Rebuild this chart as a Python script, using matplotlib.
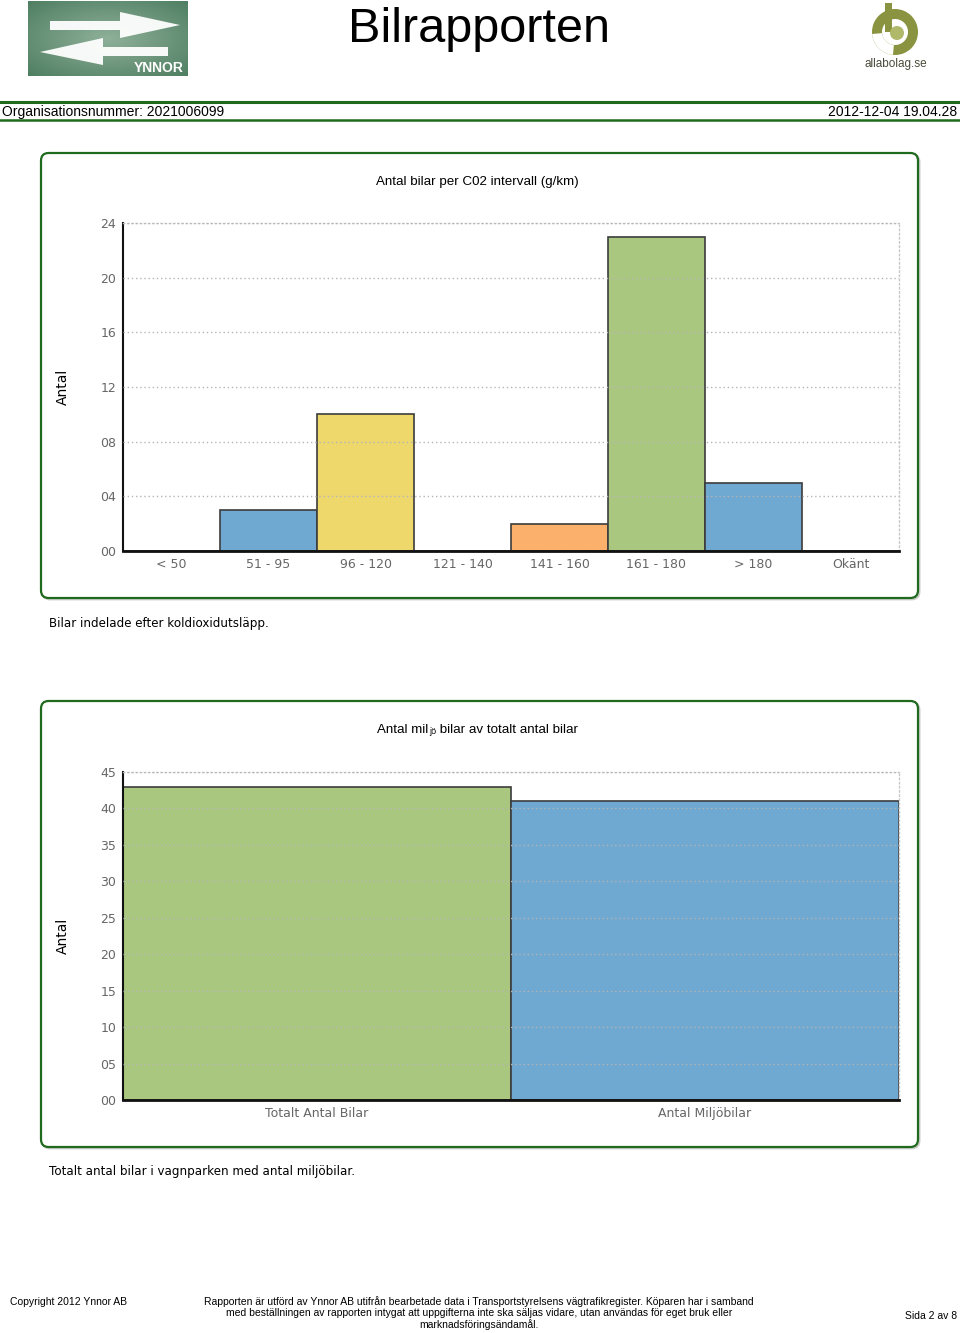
import numpy as np
import matplotlib
matplotlib.use("Agg")
import matplotlib.pyplot as plt
from matplotlib.patches import FancyBboxPatch, Polygon, Rectangle, Wedge, Circle
from matplotlib.lines import Line2D

# ---------------- data ----------------
co2_categories = ["< 50", "51 - 95", "96 - 120", "121 - 140", "141 - 160", "161 - 180", "> 180", "Okänt"]
co2_counts = [0, 3, 10, 0, 2, 23, 5, 0]
co2_colors = ["#6fa8d1", "#6fa8d1", "#eed86c", "#6fa8d1", "#fbb06c", "#a9c77e", "#6fa8d1", "#6fa8d1"]
co2_yticks = [0, 4, 8, 12, 16, 20, 24]

env_categories = ["Totalt Antal Bilar", "Antal Miljöbilar"]
env_counts = [43, 41]
env_colors = ["#a9c77e", "#6fa8d1"]
env_yticks = [0, 5, 10, 15, 20, 25, 30, 35, 40, 45]

W, H = 960, 1333
fig = plt.figure(figsize=(W / 100, H / 100), dpi=100)
fig.patch.set_facecolor("white")

SANS = ["Liberation Sans", "DejaVu Sans"]
TICKF = ["DejaVu Sans"]
GREEN = "#1f6a1c"


def fx(x):
    return x / W


def fy(y):
    return 1 - y / H


def rect(l, t, r, b):
    return [fx(l), fy(b), fx(r) - fx(l), fy(t) - fy(b)]


# ---------------- frames (drawn first, behind axes) ----------------
def frame(l, t, r, b):
    sh = FancyBboxPatch((fx(l) + 0.0015, fy(b) - 0.001), fx(r) - fx(l), fy(t) - fy(b),
                        boxstyle="round,pad=0,rounding_size=0.008",
                        transform=fig.transFigure, fc="none", ec="#cccccc", lw=1.5,
                        mutation_aspect=W / H, zorder=-2)
    fig.add_artist(sh)
    p = FancyBboxPatch((fx(l), fy(b)), fx(r) - fx(l), fy(t) - fy(b),
                       boxstyle="round,pad=0,rounding_size=0.008",
                       transform=fig.transFigure, fc="white", ec=GREEN, lw=1.6,
                       mutation_aspect=W / H, zorder=-1)
    fig.add_artist(p)


frame(41, 153, 918, 598)
frame(41, 701, 918, 1147)

# ---------------- header ----------------
lax = fig.add_axes(rect(28, 1, 188, 76))
lax.set_xlim(0, 160)
lax.set_ylim(75, 0)
lax.axis("off")
gy, gx = np.mgrid[0:75, 0:160]
grad = np.hypot((gx - 80) / 80.0, (gy - 37) / 37.0)
lax.imshow(grad, cmap=matplotlib.colors.LinearSegmentedColormap.from_list(
    "g", ["#8fb09a", "#4f7f62"]), extent=(0, 160, 75, 0), aspect="auto", vmin=0, vmax=1.4)
lax.add_patch(Polygon([(22, 20), (92, 20), (92, 11), (152, 24), (92, 37), (92, 29), (22, 29)],
                      closed=True, fc="white", ec="none", alpha=0.95))
lax.add_patch(Polygon([(140, 46), (75, 46), (75, 37), (12, 51), (75, 64), (75, 55), (140, 55)],
                      closed=True, fc="white", ec="none", alpha=0.95))
lax.text(156, 67, "YNNOR", color="white", fontsize=10, fontweight="bold",
         family=SANS, ha="right", va="center")

rax = fig.add_axes(rect(855, 0, 935, 75))
rax.set_xlim(0, 80)
rax.set_ylim(75, 0)
rax.set_aspect("equal")
rax.axis("off")
rax.add_patch(Wedge((40, 32), 23, 0, 360, width=10, fc="#8a9440", ec="none"))
rax.add_patch(Wedge((40, 32), 23, 95, 175, width=10, fc="white", ec="none"))
rax.add_patch(Rectangle((30, 3), 7, 29, fc="#8a9440", ec="none"))
rax.add_patch(Circle((42, 33), 7, fc="#b0b86a", ec="none"))
rax.text(41, 64, "allabolag.se", color="#4a4a3a", fontsize=8.5, family=SANS,
         ha="center", va="center")

fig.text(fx(479), fy(30), "Bilrapporten", fontsize=35, family=SANS,
         ha="center", va="center", color="black")

fig.add_artist(Line2D([0, 1], [fy(102), fy(102)], color=GREEN, lw=2.2))
fig.add_artist(Line2D([0, 1], [fy(119.5), fy(119.5)], color=GREEN, lw=1.8))
fig.text(fx(2), fy(112), "Organisationsnummer: 2021006099", fontsize=10, family=SANS,
         ha="left", va="center")
fig.text(fx(957), fy(112), "2012-12-04 19.04.28", fontsize=10, family=SANS,
         ha="right", va="center")


def style_axes(ax, yticks):
    ax.patch.set_alpha(0)
    ax.set_yticks(yticks)
    ax.set_yticklabels(["%02d" % v for v in yticks], color="#666666",
                       fontsize=9, family=TICKF)
    ax.set_ylim(yticks[0], yticks[-1])
    ax.tick_params(axis="both", length=0)
    ax.tick_params(axis="y", pad=5)
    ax.tick_params(axis="x", pad=5)
    ax.yaxis.grid(True, linestyle=(0, (1, 2)), color="#b5b5b5", lw=1)
    ax.set_axisbelow(False)
    ax.spines["left"].set_color("#111111")
    ax.spines["left"].set_linewidth(1.5)
    ax.spines["bottom"].set_color("#111111")
    ax.spines["bottom"].set_linewidth(2)
    ax.spines["bottom"].set_zorder(4)
    for s in ("top", "right"):
        ax.spines[s].set_linestyle((0, (1, 2)))
        ax.spines[s].set_color("#c8c8c8")
        ax.spines[s].set_linewidth(1)
    ax.set_ylabel("Antal", fontsize=10, family=TICKF, color="black")
    ax.yaxis.set_label_coords(-(123 - 70) / 776, 0.5)
    for lbl in ax.get_xticklabels():
        lbl.set_color("#666666")
        lbl.set_fontsize(9)
        lbl.set_family(TICKF)


# ---------------- chart 1 ----------------
ax1 = fig.add_axes(rect(123, 223, 899, 551))
x1 = np.arange(len(co2_categories))
ax1.bar(x1, co2_counts, width=1.0, color=co2_colors, edgecolor="#3c3c3c", lw=1.2, zorder=1)
ax1.set_xlim(-0.5, len(co2_categories) - 0.5)
ax1.set_xticks(x1)
ax1.set_xticklabels(co2_categories)
style_axes(ax1, co2_yticks)
fig.text(fx(477), fy(182), "Antal bilar per C02 intervall (g/km)", fontsize=9.6,
         family=SANS, ha="center", va="center")
fig.text(fx(49), fy(624), "Bilar indelade efter koldioxidutsläpp.", fontsize=8.6,
         family=TICKF, ha="left", va="center")

# ---------------- chart 2 ----------------
ax2 = fig.add_axes(rect(123, 772, 899, 1100))
x2 = np.arange(len(env_categories))
ax2.bar(x2, env_counts, width=1.0, color=env_colors, edgecolor="#3c3c3c", lw=1.2, zorder=1)
ax2.set_xlim(-0.5, len(env_categories) - 0.5)
ax2.set_xticks(x2)
ax2.set_xticklabels(env_categories)
style_axes(ax2, env_yticks)

t1 = fig.text(fx(377), fy(730), "Antal mil", fontsize=9.6, family=SANS, ha="left", va="center")
t2 = ax2.annotate("jö", xy=(1, 0), xycoords=t1, xytext=(0.5, 0), textcoords="offset points",
                  fontsize=6.5, family=SANS, ha="left", va="bottom", annotation_clip=False)
t3 = ax2.annotate(" bilar av totalt antal bilar", xy=(1, 0), xycoords=t2,
                  xytext=(0, 0), textcoords="offset points",
                  fontsize=9.6, family=SANS, ha="left", va="bottom", annotation_clip=False)
fig.text(fx(49), fy(1172), "Totalt antal bilar i vagnparken med antal miljöbilar.", fontsize=8.6,
         family=TICKF, ha="left", va="center")

# ---------------- footer ----------------
fig.text(fx(10), fy(1302), "Copyright 2012 Ynnor AB", fontsize=7.5, family=SANS,
         ha="left", va="center")
footer_lines = [
    "Rapporten är utförd av Ynnor AB utifrån bearbetade data i Transportstyrelsens vägtrafikregister. Köparen har i samband",
    "med beställningen av rapporten intygat att uppgifterna inte ska säljas vidare, utan användas för eget bruk eller",
    "marknadsföringsändamål.",
]
for i, line in enumerate(footer_lines):
    fig.text(fx(479), fy(1302 + 11.5 * i), line, fontsize=7.45, family=SANS,
             ha="center", va="center")
fig.text(fx(957), fy(1316), "Sida 2 av 8", fontsize=7.5, family=SANS, ha="right", va="center")

fig.savefig("out.png", dpi=100, facecolor="white")
